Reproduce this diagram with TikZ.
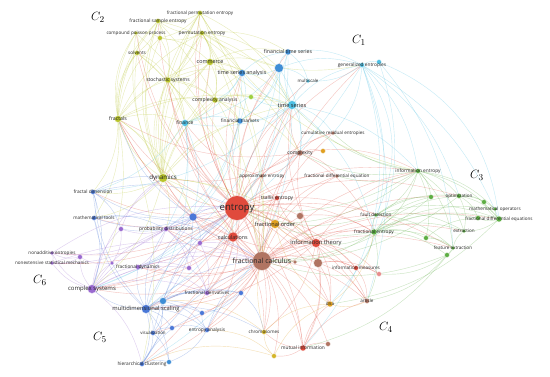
\documentclass[tikz,border=0pt]{standalone}
\usepackage{fontspec}
\setmainfont{Open Sans}
\usetikzlibrary{backgrounds}
\definecolor{cY}{HTML}{B9C42A}
\definecolor{cC}{HTML}{4EC0E4}
\definecolor{cT}{HTML}{3E8ED6}
\definecolor{cG}{HTML}{5CAE42}
\definecolor{cL}{HTML}{9ED040}
\definecolor{cR}{HTML}{E04A3C}
\definecolor{cN}{HTML}{B07462}
\definecolor{cO}{HTML}{E0A020}
\definecolor{cD}{HTML}{D4B428}
\definecolor{cK}{HTML}{E88C8C}
\definecolor{cB}{HTML}{4A78D8}
\definecolor{cP}{HTML}{9A6AD0}
\definecolor{cM}{HTML}{A0A060}
\begin{document}
\begin{tikzpicture}[x=1pt,y=-1pt,
  dot/.style={circle,inner sep=0pt,draw opacity=0.35,line width=1.2pt},
  lab/.style={inner sep=0pt,text=black!85},
  edge/.style={line width=0.4pt,opacity=0.33},
  clab/.style={inner sep=0pt,font=\fontsize{13}{13}\selectfont}]
\begin{pgfonlayer}{background}
\path[use as bounding box,fill=white] (0,0) rectangle (550,376);
\end{pgfonlayer}
% nodes
\foreach \n/\x/\y/\c/\s in {
 fpe/200/13/cY/4, fse/158/21/cY/4, cpp/136/33/cY/3, y1/160/38/cY/4, pe/202/33/cY/4,
 solv/137/53/cY/4, comm/210/62/cY/6, stoch/168/80/cY/5, cxa/215/100/cY/5,
 fractals/118/119/cY/6, dyn/163/178/cY/8, g0/251/97/cL/4,
 tsa/242/73/cT/6, big/279/68/cT/8, fts/288/52/cT/5, gen/362/65/cC/4, gen2/379/62/cC/4,
 ms/308/81/cC/3, ts/292/105/cC/8, fin/185/123/cC/6, fm/240/121/cT/5,
 cre/333/133/cN/3, cx/300/153/cN/5, cxr/323/151/cO/4, apen/262/176/cN/3, fde/337/176/cN/3,
 tsal/277/198/cR/4, ent/237/208/cR/24, fo/275/224/cO/8, r1/300/216/cN/6,
 it/316/243/cR/8, calc/233/237/cR/9, fc/262/261/cN/18, fcb/318/263/cN/8, fcs/295/262/cN/3,
 im/356/268/cR/4, im2/379/274/cK/4, dna/330/304/cO/5, art/367/301/cN/4,
 chr/264/332/cD/4, mi/303/348/cR/5, mi2/328/344/cN/4, mi3/274/356/cD/4,
 ie/418/171/cG/4, g1/431/197/cG/4, opt/459/196/cG/4, g2/484/202/cG/4, mo/495/209/cG/3,
 fdes/499/219/cG/5, fdes2/478/218/cG/4, ext/464/231/cG/3, g3/426/238/cG/4,
 fx/453/248/cG/3, fx2/447/255/cG/4, fd/376/215/cG/3, fe/374/232/cG/5,
 fdim/93/192/cB/4, mt/94/218/cB/4, eb/193/217/cB/7, mds/146/309/cB/8, mds2/163/301/cT/6,
 vis/153/333/cB/4, vb/172/328/cB/4, ea/207/330/cB/4, eb2/202/313/cB/4,
 hc/142/364/cB/4, hc2/169/362/cT/4, fdv2/241/293/cB/4,
 pd/166/229/cP/4, p1/121/229/cP/4, p2/200/243/cP/4, fdy/138/267/cP/4, fdy2/112/263/cP/3,
 p3/189/268/cP/4, fdv/207/293/cP/4, cs/92/289/cP/8, na/52/253/cP/3, nsm/52/263/cP/3, p4/80/257/cP/4}
 {\node[dot,fill=\c,draw=\c,minimum size=\s pt] (\n) at (\x,\y) {};}
% edges
\begin{pgfonlayer}{background}
\foreach \a/\b in {ent/fc, ent/calc, ent/fo, ent/tsal, ent/apen, ent/it, ent/r1, ent/cx, ent/cre, ent/fin, ent/fm, ent/dyn, ent/fractals, ent/eb, ent/pd, ent/p2, ent/mds, ent/cs, ent/ts, ent/tsa, ent/cxa, ent/comm, ent/stoch, ent/im, ent/dna, ent/mi, ent/chr, ent/fe, ent/ie, ent/fd, ent/fde, ent/gen, ent/fdv, ent/ea, ent/fdim, ent/mt, ent/pe, ent/fse, ent/big, ent/fts, ent/ms, ent/fcb, ent/art, ent/hc, ent/vis, ent/fdy, ent/nsm, ent/solv, ent/cpp, ent/fpe, ent/opt, ent/fx, ent/na,
 fc/calc, fc/fo, fc/it, fc/fcb, fc/im, fc/dna, fc/mi, fc/chr, fc/art, fc/fdv, fc/fdv2, fc/mds, fc/cs, fc/fe, fc/fdes, fc/opt, fc/ext, fc/fx, fc/fdy, fc/pd, fc/dyn, fc/fractals, fc/ts, fc/tsa, fc/hc, fc/vis, fc/mi3, fc/mi2, fc/fd, fc/tsal, fc/apen, fc/cx, fc/fde, fc/ea, fc/eb2, fc/fcs, fc/ie, fc/cre, fc/gen, fc/fin, fc/stoch,
 it/im, it/mi, it/dna, it/art, it/fe, it/ie, it/fcb, it/chr, it/r1, it/calc, it/fo, it/tsal, it/cx, it/im2, it/ts, it/fdy, it/mds,
 calc/fo, calc/tsal, calc/fdv, calc/pd, calc/mds, calc/dyn, calc/chr, calc/mi, calc/fractals, calc/cs,
 cx/cre, cx/apen, cx/ts, cx/cxr, cx/fde, cx/ie, cx/fe, cx/fractals, cx/dyn,
 fcb/im, fcb/mi, fcb/dna, fcb/art, fcb/im2, mi/dna, mi/chr, mi/mi2, mi/mi3, mi/art,
 tsal/apen, tsal/fo, r1/fo, r1/fe, im/art, im/im2, fo/fde, fo/fdv, apen/ts, apen/fin, tsal/cs}
 {\draw[edge,cR] (\a) to[bend left=18] (\b);}
\foreach \a/\b in {dna/chr, dna/mi3, chr/mi3, fo/dna, fo/chr, mi3/ea, dna/art, chr/mds2, mi3/hc, dna/fe, fo/it}
 {\draw[edge,cO] (\a) to[bend right=20] (\b);}
\foreach \a/\b in {dyn/fractals, dyn/stoch, dyn/solv, dyn/comm, dyn/cpp, dyn/fse, dyn/fpe, dyn/pe, dyn/cxa, dyn/fin, dyn/fm, dyn/cs, dyn/fdim, dyn/mt, dyn/pd, dyn/calc, dyn/ts, dyn/tsa, dyn/eb, dyn/fo, dyn/it,
 fractals/stoch, fractals/solv, fractals/cpp, fractals/fse, fractals/comm, fractals/fdim, fractals/cs, fractals/mt, fractals/ts, fractals/fin, fractals/cxa, fractals/hc, fractals/pe, fractals/y1,
 pe/fpe, pe/fse, pe/comm, pe/tsa, pe/ts, pe/big, pe/cxa, pe/y1, pe/stoch, pe/fts,
 fpe/fse, fpe/comm, fpe/y1, fpe/stoch, fse/y1, fse/stoch, fse/solv, cpp/solv, cpp/y1, y1/stoch, y1/comm, solv/stoch,
 comm/tsa, comm/fin, comm/cxa, comm/stoch, comm/big, comm/fts, comm/ts,
 stoch/cxa, stoch/fin, stoch/tsa, cxa/fm, cxa/ts, cxa/fin, cxa/g0, cxa/cx,
 fpe/fc, fse/fc, pe/fc, pe/ent, solv/fc, stoch/calc, cpp/fc, fpe/ts, fse/tsa, comm/cx, stoch/fm, solv/fin, fractals/eb, fractals/dyn}
 {\draw[edge,cY] (\a) to[bend left=18] (\b);}
\foreach \a/\b in {fpe/ie, pe/gen, fse/fractals, cpp/fractals, solv/fractals, fse/dyn, fpe/dyn, y1/dyn, pe/dyn, comm/dyn, fpe/fin, stoch/dyn}
 {\draw[edge,cY] (\a) to[bend right=22] (\b);}
\foreach \a/\b in {ts/tsa, ts/big, ts/fts, ts/fm, ts/fin, ts/ms, ts/gen, ts/cre, ts/ie, ts/fe, ts/mds, ts/cx, ts/g0,
 big/fts, big/tsa, big/fm, big/ms, big/gen, big/fin, big/cx, tsa/fts, tsa/fin, tsa/fm, tsa/cxa, fts/gen, fts/ms, fts/fm,
 gen/gen2, gen/ie, gen/fe, gen/opt, gen/fdes, gen/cre, gen/art, gen/ms, gen/cs, gen2/fx,
 fin/fm, fin/eb, fin/pd, fin/mds, fin/fdim, fm/eb, fm/pd, big/ent, fts/ent, tsa/eb, ts/fdim}
 {\draw[edge,cC] (\a) to[bend left=18] (\b);}
\foreach \a/\b in {gen/mi, gen2/dna, gen/fd, gen2/fdes, ts/hc, big/cs}
 {\draw[edge,cC] (\a) to[bend left=30] (\b);}
\foreach \a/\b in {ie/fe, ie/fd, ie/g1, ie/opt, ie/ext, ie/fx, ie/fdes, ie/fde, ie/cx, ie/g3, ie/mo, ie/cre, ie/fo,
 fe/fdes, fe/opt, fe/fx, fe/fx2, fe/g3, fe/art, fe/im, fe/fd, fe/g1, fe/ext, fe/fdes2, fe/mo,
 fd/fdes, fd/opt, fd/g1, fd/fx, fd/ext, opt/fdes, opt/g2, opt/mo, opt/fdes2, opt/ext,
 fdes/mo, fdes/g2, fdes/fdes2, fdes/ext, fx/fx2, fx/ext, g3/fx, g3/fdes2, fx2/art, fx2/im2, fdes/dna, fx/mi,
 ie/ent, fe/ent, fe/fc, fd/ent, opt/fc, g1/fc, fx2/fc, fe/it, ie/ts}
 {\draw[edge,cG] (\a) to[bend left=18] (\b);}
\foreach \a/\b in {mds/mds2, mds/vis, mds/vb, mds/hc, mds/hc2, mds/ea, mds/eb2, mds/cs, mds/fdv, mds/fdv2, mds/eb, mds/fdim, mds/mt, mds/pd, mds/fdy, mds/chr,
 eb/pd, eb/fdim, eb/mt, eb/fdy, eb/p1, eb/p2, eb/mds2, eb/calc,
 mds2/vis, mds2/ea, mds2/hc, mds2/fdv, mds2/eb2, mds2/fdv2, vis/hc, vis/hc2, vis/vb, vb/ea, ea/hc2, ea/eb2, ea/fdv2,
 hc/hc2, hc/eb2, fdim/mt, fdim/cs, fdim/p1, mt/cs, mt/pd, fdv2/eb2, fdv2/chr,
 eb/ent, mds/ent, mds/fc, mds2/ent, hc/fc, vis/ent, ea/fc, fdim/ent, mt/fc, eb/fractals, fdim/dyn}
 {\draw[edge,cB] (\a) to[bend left=18] (\b);}
\foreach \a/\b in {cs/na, cs/nsm, cs/p4, cs/fdy, cs/fdy2, cs/pd, cs/p1, cs/fdv, cs/p3, cs/hc,
 pd/p1, pd/p2, pd/fdy, pd/p3, pd/fdv, pd/na, pd/nsm, p4/na, p4/nsm, na/nsm, fdy/p3, fdy/fdv, fdy2/p4, p2/fdv, p3/fdv, p1/fdy2,
 cs/ent, cs/fc, pd/ent, fdy/fc, p2/fc, p3/ent, na/ent, nsm/fc, cs/dyn, p1/dyn}
 {\draw[edge,cP] (\a) to[bend left=18] (\b);}
\end{pgfonlayer}
% labels
\foreach \n/\t/\f in {
 ent/entropy/9.6, fc/fractional calculus/7, it/information theory/5.8, fo/fractional order/5.6,
 calc/calculations/5.4, tsal/tsallis entropy/5, apen/approximate entropy/4.6,
 fde/fractional differential equation/4.6, cx/complexity/5, cre/cumulative residual entropies/4.6,
 im/information measures/4.6, dna/dna/4.6, art/article/4.6, chr/chromosomes/4.6,
 mi/mutual information/4.8, ie/information entropy/4.8, opt/optimization/4.6,
 mo/mathematical operators/4.6, fdes/fractional differential equations/4.6, ext/extraction/4.6,
 fx/feature extraction/4.6, fd/fault detection/4.6, fe/fractional entropy/4.8,
 ts/time series/5.6, tsa/time series analysis/5.4, fts/financial time series/5.2,
 gen/generalized entropies/4.8, ms/multiscale/4.4, fin/finance/5, fm/financial markets/4.8,
 fpe/fractional permutation entropy/4.6, fse/fractional sample entropy/4.8,
 cpp/compound poisson process/4.6, pe/permutation entropy/4.8, solv/solvents/4.6,
 comm/commerce/5.4, stoch/stochastic systems/5, cxa/complexity analysis/5,
 fractals/fractals/5.2, dyn/dynamics/6.2, fdim/fractal dimension/4.8, mt/mathematical tools/4.6,
 pd/probability distributions/4.8, fdy/fractional dynamics/4.8, fdv/fractional derivatives/4.6,
 cs/complex systems/6, na/nonadditive entropies/4.6, nsm/nonextensive statistical mechanics/4.6,
 mds/multidimensional scaling/5.8, vis/visualization/4.4, ea/entropy analysis/4.8,
 hc/hierarchical clustering/4.8}
 {\node[lab,font=\fontsize{\f}{\f}\selectfont] (\n-l) at (\n) {\t};}
% cluster labels
\node[clab] (C1) at (359,40) {$C_1$};
\node[clab] (C2) at (98,17) {$C_2$};
\node[clab] (C3) at (477,175) {$C_3$};
\node[clab] (C4) at (386,327) {$C_4$};
\node[clab] (C5) at (100,337) {$C_5$};
\node[clab] (C6) at (40,280) {$C_6$};
\end{tikzpicture}
\end{document}
